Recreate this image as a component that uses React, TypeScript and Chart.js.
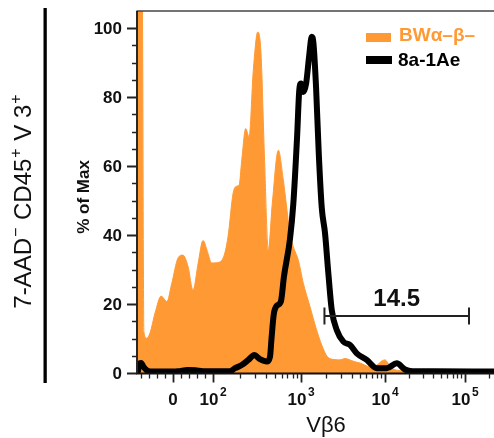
import React, { useEffect, useRef } from 'react';
import { Chart, LinearScale, registerables } from 'chart.js';

// ---------------- data ----------------
const SERIES_NAMES = ['BWα–β–', '8a-1Ae'];

// Vβ6 fluorescence (x) and % of Max (y) for BWα-β- (orange filled histogram)
const orangeX = [-87, -76, -72, -65, -56.5, -44, -29, -15, -3, 12, 24, 37, 49, 62, 74, 87, 96, 110, 130, 148, 169, 186, 198, 212, 235, 257, 287, 322, 351, 383, 425, 472, 552, 629, 658, 750, 818, 932, 1065, 1280, 1510, 1764, 2060, 2500, 2912, 3341, 3627, 4300, 5040, 6628, 8000, 9300, 10000, 10800, 11548, 13000, 15399, 30000, 230000];
const orangeY = [108, 108, 12, 10.1, 11.6, 17.4, 22.3, 20.7, 26, 33.3, 34.2, 30.8, 24, 31.9, 38.4, 34.7, 31.9, 32, 33.3, 39.5, 52.1, 54.2, 54.5, 61.7, 70.9, 68.5, 87.8, 98.9, 92.7, 63.7, 35.7, 49.3, 64.6, 56, 52, 40.5, 36.6, 32.7, 26, 19.2, 13, 8.1, 4.7, 3.9, 3.8, 4.2, 4, 3.3, 2.9, 1.8, 2.3, 3.6, 3.8, 3.0, 1.8, 1.0, 0.7, 0.5, 0.5];

// 8a-1Ae (black line histogram)
const blackX = [-87, -83, -79, -73, -65, -56, -20, 12, 36, 55, 74, 105, 156, 178, 212, 252, 295, 342, 408, 444, 462, 490, 530, 590, 640, 750, 817, 900, 955, 1000, 1065, 1150, 1250, 1341, 1401, 1509, 1624, 1764, 1931, 2113, 2320, 2661, 3189, 3831, 4604, 6055, 7966, 10500, 14006, 17783, 22000, 40000, 230000];
const blackY = [0.5, 2.8, 2.9, 1.8, 0.8, 0.4, 0.4, 0.5, 0.9, 0.8, 0.5, 0.5, 0.5, 1.4, 2.3, 3.8, 5.2, 4, 3.3, 4.7, 10, 17, 19.5, 20.7, 28, 39, 49, 68, 82, 84, 81.5, 84, 92, 97.5, 96, 83, 64, 48, 40.5, 29, 18.3, 12.5, 9.1, 8.1, 5.7, 3.8, 1.4, 1.4, 2.8, 1.0, 0.5, 0.5, 0.4];

const X_MIN = -87;
const X_MAX = 230000;
const Y_MIN = 0;
const Y_MAX = 105;

const Y_MAJOR = [0, 20, 40, 60, 80, 100];
const Y_MINOR = [5, 10, 15, 25, 30, 35, 45, 50, 55, 65, 70, 75, 85, 90, 95];
const X_MAJOR = [0, 100, 1000, 10000, 100000];
const X_MAJOR_LABELS: [string, string][] = [['0', ''], ['10', '2'], ['10', '3'], ['10', '4'], ['10', '5']];
const X_MINOR = [-80, -60, -40, -20, 20, 40, 60, 80, 200, 300, 400, 500, 600, 700, 800, 900, 2000, 3000, 4000, 5000, 6000, 7000, 8000, 9000, 20000, 30000, 40000, 50000, 60000, 70000, 80000, 90000, 200000];

const GATE = [1900, 112000];
const GATE_LABEL = '14.5';
const GATE_Y = 16.5;

const X_TITLE = 'Vβ6';
const Y_TITLE = '% of Max';
const LEFT_LABEL: [string, boolean][] = [['7-AAD', false], ['−', true], [' CD45', false], ['+', true], [' V 3', false], ['+', true]];

// ---------------- styles ----------------
const FONT = '"Liberation Sans", Arial, Helvetica, sans-serif';
const ORANGE = '#FF9933';

// biexponential-like display transform
const K = 40 / Math.asinh(0.4);
function toU(v: number): number {
  if (v <= 100) return K * Math.asinh(v / 250);
  const l = Math.log10(v);
  if (l <= 3) return 40 + (l - 2) * 88;
  if (l <= 4) return 128 + (l - 3) * 84;
  return 212 + (l - 4) * 80;
}
function fromU(u: number): number {
  if (u <= 40) return 250 * Math.sinh(u / K);
  if (u <= 128) return Math.pow(10, 2 + (u - 40) / 88);
  if (u <= 212) return Math.pow(10, 3 + (u - 128) / 84);
  return Math.pow(10, 4 + (u - 212) / 80);
}

class BiexScale extends LinearScale {
  static id = 'biex';
  static defaults = {};
  getPixelForValue(value: any) {
    if (value === null || value === undefined || isNaN(value)) return NaN;
    const a = toU(this.min), b = toU(this.max);
    return this.getPixelForDecimal((toU(value) - a) / (b - a));
  }
  getValueForPixel(pixel: number) {
    const a = toU(this.min), b = toU(this.max);
    return fromU(a + this.getDecimalForPixel(pixel) * (b - a));
  }
}

Chart.register(...registerables, BiexScale as any);

const decor = {
  id: 'decor',
  afterDatasetsDraw(chart: any) {
    const { ctx, chartArea: ca } = chart;
    const x = chart.scales.x;
    const y = chart.scales.y;
    ctx.save();
    ctx.lineCap = 'butt';

    // frame
    ctx.strokeStyle = '#444';
    ctx.lineWidth = 1.5;
    ctx.beginPath();
    ctx.moveTo(136.5, ca.top);
    ctx.lineTo(ca.right, ca.top);
    ctx.stroke();

    ctx.strokeStyle = '#111';
    ctx.lineWidth = 1.8;
    ctx.beginPath();
    ctx.moveTo(137, ca.top);
    ctx.lineTo(137, ca.bottom + 1);
    ctx.moveTo(136, ca.bottom + 0.5);
    ctx.lineTo(ca.right, ca.bottom + 0.5);
    ctx.stroke();

    // y ticks
    ctx.strokeStyle = '#222';
    ctx.lineWidth = 2;
    ctx.beginPath();
    for (const v of Y_MAJOR) {
      const py = Math.round(y.getPixelForValue(v)) + 0.5;
      ctx.moveTo(127, py);
      ctx.lineTo(137, py);
    }
    ctx.stroke();
    ctx.lineWidth = 1.5;
    ctx.beginPath();
    for (const v of Y_MINOR) {
      const py = Math.round(y.getPixelForValue(v)) + 0.5;
      ctx.moveTo(132, py);
      ctx.lineTo(137, py);
    }
    ctx.stroke();

    ctx.fillStyle = '#111';
    ctx.font = `bold 17px ${FONT}`;
    ctx.textAlign = 'right';
    ctx.textBaseline = 'middle';
    for (const v of Y_MAJOR) {
      ctx.fillText(String(v), 122, y.getPixelForValue(v) + 1);
    }

    // x ticks
    const by = ca.bottom + 0.5;
    ctx.strokeStyle = '#222';
    ctx.lineWidth = 1.8;
    ctx.beginPath();
    for (const v of X_MAJOR) {
      const px = Math.round(x.getPixelForValue(v)) + 0.5;
      ctx.moveTo(px, by);
      ctx.lineTo(px, by + 9);
    }
    ctx.stroke();
    ctx.lineWidth = 1.3;
    ctx.beginPath();
    for (const v of X_MINOR) {
      const px = Math.round(x.getPixelForValue(v)) + 0.5;
      ctx.moveTo(px, by);
      ctx.lineTo(px, by + 5);
    }
    ctx.stroke();

    // x labels with superscripts
    ctx.textAlign = 'left';
    ctx.textBaseline = 'alphabetic';
    X_MAJOR.forEach((v, i) => {
      const [base, sup] = X_MAJOR_LABELS[i];
      ctx.font = `bold 17px ${FONT}`;
      const wb = ctx.measureText(base).width;
      ctx.font = `bold 12px ${FONT}`;
      const ws = sup ? ctx.measureText(sup).width + 1.5 : 0;
      const px = x.getPixelForValue(v);
      const start = px - (wb + ws) / 2;
      ctx.font = `bold 17px ${FONT}`;
      ctx.fillText(base, start, 405);
      if (sup) {
        ctx.font = `bold 12px ${FONT}`;
        ctx.fillText(sup, start + wb + 1.5, 396);
      }
    });

    // x title
    ctx.font = `22px ${FONT}`;
    ctx.textAlign = 'center';
    ctx.fillText(X_TITLE, 326, 432);

    // y title
    ctx.save();
    ctx.translate(89, 197);
    ctx.rotate(-Math.PI / 2);
    ctx.font = `bold 17px ${FONT}`;
    ctx.textAlign = 'center';
    ctx.fillText(Y_TITLE, 0, 0);
    ctx.restore();

    // outer left label
    ctx.save();
    ctx.translate(31, 201);
    ctx.rotate(-Math.PI / 2);
    ctx.textAlign = 'left';
    let total = 0;
    const widths = LEFT_LABEL.map(([t, s]) => {
      ctx.font = s ? `16px ${FONT}` : `24px ${FONT}`;
      const w = ctx.measureText(t).width + (s ? 2 : 0);
      total += w;
      return w;
    });
    let cx = -total / 2;
    LEFT_LABEL.forEach(([t, s], i) => {
      ctx.font = s ? `16px ${FONT}` : `24px ${FONT}`;
      ctx.fillText(t, cx + (s ? 1 : 0), s ? -10 : 0);
      cx += widths[i];
    });
    ctx.restore();

    // left black bar
    ctx.fillStyle = '#000';
    ctx.fillRect(43.5, 8, 3.3, 375);

    // gate
    const gx1 = x.getPixelForValue(GATE[0]);
    const gx2 = x.getPixelForValue(GATE[1]);
    const gy = y.getPixelForValue(GATE_Y);
    ctx.strokeStyle = '#222';
    ctx.lineWidth = 2;
    ctx.beginPath();
    ctx.moveTo(gx1, gy);
    ctx.lineTo(gx2, gy);
    ctx.moveTo(gx1, gy - 8.5);
    ctx.lineTo(gx1, gy + 8.5);
    ctx.moveTo(gx2, gy - 8.5);
    ctx.lineTo(gx2, gy + 8.5);
    ctx.stroke();
    ctx.fillStyle = '#111';
    ctx.font = `bold 24px ${FONT}`;
    ctx.textAlign = 'center';
    ctx.fillText(GATE_LABEL, (gx1 + gx2) / 2, gy - 10.5);

    // legend
    ctx.textAlign = 'left';
    ctx.fillStyle = ORANGE;
    ctx.fillRect(366, 33, 25, 9);
    ctx.font = `bold 19px ${FONT}`;
    ctx.fillText(SERIES_NAMES[0], 399, 41);
    ctx.fillStyle = '#000';
    ctx.fillRect(366, 56, 26, 8);
    ctx.fillText(SERIES_NAMES[1], 398, 66);

    ctx.restore();
  },
};

export default function App() {
  const ref = useRef<HTMLCanvasElement | null>(null);
  useEffect(() => {
    if (!ref.current) return;
    const orangeData = orangeX.map((v, i) => ({ x: v, y: orangeY[i] }));
    const blackData = blackX.map((v, i) => ({ x: v, y: blackY[i] }));
    const chart = new Chart(ref.current, {
      type: 'line',
      data: {
        datasets: [
          {
            label: SERIES_NAMES[1],
            data: blackData,
            borderColor: '#000',
            borderWidth: 6,
            fill: false,
            pointRadius: 0,
            cubicInterpolationMode: 'monotone',
            borderJoinStyle: 'round',
            borderCapStyle: 'round',
            order: 0,
          },
          {
            label: SERIES_NAMES[0],
            data: orangeData,
            borderColor: ORANGE,
            backgroundColor: ORANGE,
            borderWidth: 1,
            fill: 'origin',
            pointRadius: 0,
            cubicInterpolationMode: 'monotone',
            order: 1,
          },
        ],
      },
      options: {
        animation: false,
        responsive: false,
        devicePixelRatio: 1,
        layout: { padding: { left: 138, right: 0, top: 11, bottom: 65 } },
        plugins: { legend: { display: false }, tooltip: { enabled: false } },
        events: [],
        scales: {
          x: { type: 'biex' as any, min: X_MIN, max: X_MAX, bounds: 'data', display: false },
          y: { type: 'linear', min: Y_MIN, max: Y_MAX, display: false },
        },
      } as any,
      plugins: [decor],
    });
    return () => chart.destroy();
  }, []);
  return (
    <div style={{ position: 'absolute', left: 0, top: 0, width: 494, height: 438, background: '#fff' }}>
      <canvas ref={ref} width={494} height={438} style={{ display: 'block' }} />
    </div>
  );
}
